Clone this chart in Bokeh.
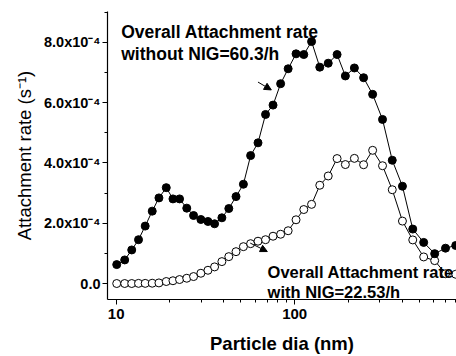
from bokeh.plotting import figure
from bokeh.models import (Range1d, FixedTicker, CustomJSTickFormatter, Label,
                          Arrow, NormalHead)
from bokeh.embed import file_html
from bokeh.resources import INLINE

# ---- data ----
dia_nm = [10.07, 11.16, 12.22, 13.34, 14.54, 15.92, 17.36, 19.08, 20.80, 22.65,
          24.86, 27.14, 29.82, 32.68, 35.59, 39.11, 42.76, 46.93, 51.62, 56.66,
          62.33, 68.68, 75.66, 83.46, 91.95, 101.8, 112.5, 124.4, 138.3, 154.2,
          172.9, 192.4, 216.1, 243.4, 273.5, 310.7, 352.3, 401.8, 459.0, 528.4,
          609.0, 700.3, 799.0]

rate_without_nig = [0.627e-4, 0.782e-4, 1.113e-4, 1.453e-4, 1.905e-4, 2.400e-4, 2.839e-4,
                    3.179e-4, 2.806e-4, 2.806e-4, 2.499e-4, 2.255e-4, 2.123e-4, 2.057e-4,
                    1.981e-4, 2.179e-4, 2.486e-4, 2.882e-4, 3.292e-4, 4.242e-4, 4.665e-4,
                    5.606e-4, 5.916e-4, 6.626e-4, 7.121e-4, 7.616e-4, 7.593e-4, 8.023e-4,
                    7.174e-4, 7.306e-4, 7.593e-4, 6.883e-4, 7.148e-4, 6.824e-4, 6.273e-4,
                    5.441e-4, 4.087e-4, 3.226e-4, 1.806e-4, 1.363e-4, 0.990e-4, 1.172e-4,
                    1.261e-4]

rate_with_nig = [0.000e-4, 0.000e-4, 0.000e-4, 0.005e-4, 0.005e-4, 0.010e-4, 0.020e-4,
                 0.066e-4, 0.092e-4, 0.132e-4, 0.175e-4, 0.231e-4, 0.340e-4, 0.439e-4,
                 0.551e-4, 0.726e-4, 0.891e-4, 1.056e-4, 1.222e-4, 1.321e-4, 1.403e-4,
                 1.453e-4, 1.568e-4, 1.634e-4, 1.750e-4, 2.113e-4, 2.453e-4, 2.625e-4,
                 3.259e-4, 3.566e-4, 4.143e-4, 3.945e-4, 4.150e-4, 3.939e-4, 4.417e-4,
                 3.906e-4, 3.110e-4, 2.070e-4, 1.446e-4, 0.881e-4, 0.759e-4, 0.324e-4,
                 0.307e-4]

y_major_ticks = [0.0, 2e-4, 4e-4, 6e-4, 8e-4]
y_minor_ticks = [1e-4, 3e-4, 5e-4, 7e-4, 9e-4]
x_major_ticks = [10, 100]
x_minor_ticks = [20, 30, 40, 50, 60, 70, 80, 90, 200, 300, 400, 500, 600, 700, 800]

x_title = "Particle dia (nm)"
y_title = "Attachment rate (s\u207B\u00B9)"
label_without = ["Overall Attachment rate", "without NIG=60.3/h"]
label_with = ["Overall Attachment rate", "with NIG=22.53/h"]

FONT = "Liberation Sans"

p = figure(width=456, height=356, x_axis_type="log",
           x_range=Range1d(8.94, 807), y_range=Range1d(-0.53e-4, 9.02e-4),
           output_backend="svg", toolbar_location=None,
           min_border_left=107, min_border_right=0, min_border_top=11,
           min_border_bottom=56)
p.outline_line_color = None
p.grid.visible = False
p.background_fill_color = "white"
p.border_fill_color = "white"

# axes
for ax in (p.xaxis[0], p.yaxis[0]):
    ax.axis_line_color = "black"
    ax.axis_line_width = 1.2
    ax.major_tick_line_color = "black"
    ax.minor_tick_line_color = "black"
    ax.major_tick_in = 0
    ax.minor_tick_in = 0
    ax.major_label_text_font = FONT
    ax.major_label_text_font_style = "bold"
    ax.major_label_text_font_size = "15px"
    ax.major_label_text_color = "black"
    ax.axis_label_text_font = FONT
    ax.axis_label_text_color = "black"

p.xaxis.ticker = FixedTicker(ticks=x_major_ticks, minor_ticks=x_minor_ticks)
p.xaxis.formatter = CustomJSTickFormatter(code="return tick.toFixed(0);")
p.xaxis.major_tick_out = 5
p.xaxis.minor_tick_out = 3
p.xaxis.major_label_standoff = 4
p.xaxis.major_label_text_line_height = 1.0
p.xaxis.axis_label = x_title
p.xaxis.axis_label_text_font_style = "bold"
p.xaxis.axis_label_text_font_size = "18.5px"
p.xaxis.axis_label_text_line_height = 1.0
p.xaxis.axis_label_standoff = 11

p.yaxis.ticker = FixedTicker(ticks=y_major_ticks, minor_ticks=y_minor_ticks)
p.yaxis.formatter = CustomJSTickFormatter(code="""
if (Math.abs(tick) < 1e-12) { return "0.0"; }
return (tick / 1e-4).toFixed(1) + "x10\u207B\u2074";
""")
p.yaxis.major_label_text_font_size = "14.5px"
p.yaxis.major_tick_out = 5
p.yaxis.minor_tick_out = 3
p.yaxis.major_label_standoff = 2
p.yaxis.axis_label = y_title
p.yaxis.axis_label_text_font_style = "normal"
p.yaxis.axis_label_text_font_size = "18.5px"
p.yaxis.axis_label_standoff = 6

# data
p.line(dia_nm, rate_with_nig, line_color="black", line_width=1)
p.line(dia_nm, rate_without_nig, line_color="black", line_width=1)
p.scatter(dia_nm, rate_with_nig, marker="circle", size=8, fill_color="white",
          line_color="black", line_width=1)
p.scatter(dia_nm, rate_without_nig, marker="circle", size=8, fill_color="black",
          line_color="black", line_width=1)

# annotations
def add_label(x, y, txt, size, align="left"):
    p.add_layout(Label(x=x, y=y, text=txt, text_font=FONT, text_font_style="bold",
                       text_font_size=size, text_color="black",
                       text_baseline="alphabetic", text_align=align))

add_label(10.67, 8.33e-4, label_without[0], "17.5px")
add_label(10.67, 7.62e-4, label_without[1], "17.5px")
add_label(70.5, 0.373e-4, label_with[0], "16.5px")
add_label(70.5, -0.297e-4, label_with[1], "16.5px")

p.add_layout(Arrow(end=NormalHead(size=7, fill_color="black", line_color="black"),
                   x_start=62.3, y_start=6.68e-4, x_end=74.0, y_end=6.42e-4,
                   line_color="black", line_width=1))
p.add_layout(Arrow(end=NormalHead(size=7, fill_color="black", line_color="black"),
                   x_start=56.4, y_start=1.34e-4, x_end=70.3, y_end=1.06e-4,
                   line_color="black", line_width=1))

open("out.html", "w").write(file_html(p, INLINE))
